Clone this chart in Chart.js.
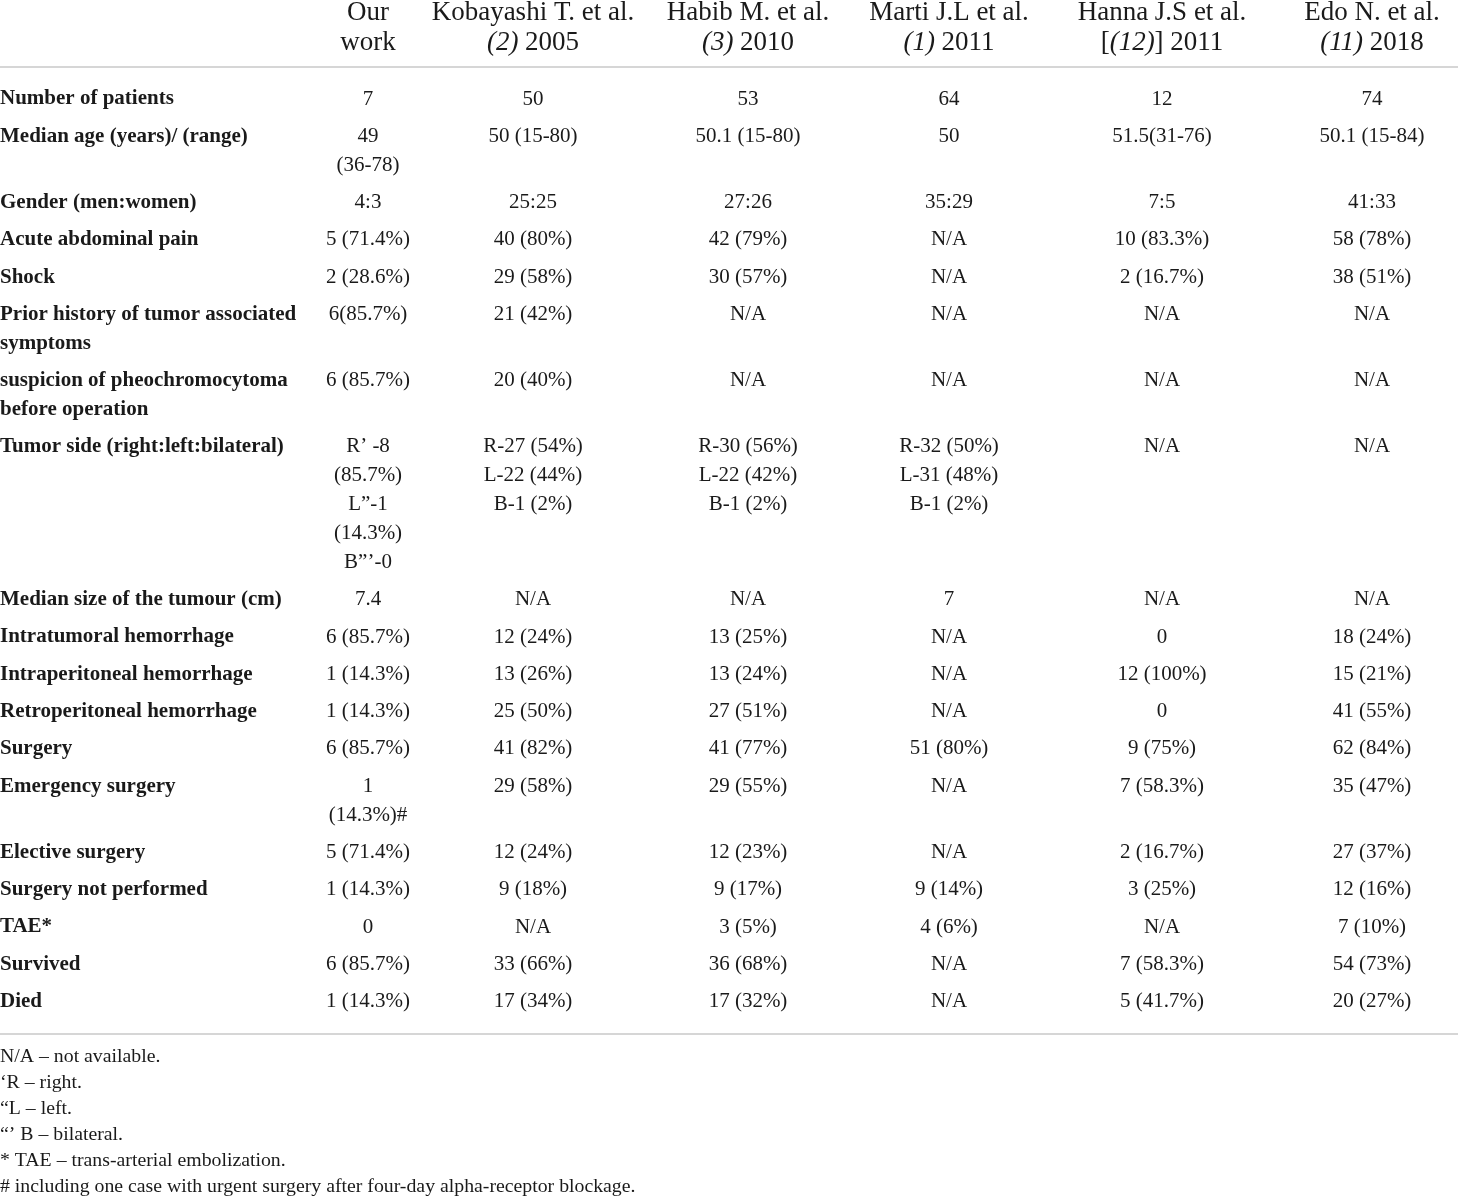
<!DOCTYPE html>
<html>
<head>
<meta charset="utf-8">
<script src="https://cdn.jsdelivr.net/npm/chart.js@4/dist/chart.umd.min.js"></script>
<style>
  html, body { margin: 0; padding: 0; background: #ffffff; }
  #wrap { width: 1460px; height: 1196px; position: relative; }
</style>
</head>
<body>
<div id="wrap"><canvas id="c" width="1460" height="1196"></canvas></div>
<script>
// ---------------- DATA ----------------
const headerLine1 = ["Our", "Kobayashi T. et al.", "Habib M. et al.", "Marti J.L et al.", "Hanna J.S et al.", "Edo N. et al."];
const headerLine2 = ["work", "_(2)_ 2005", "_(3)_ 2010", "_(1)_ 2011", "[_(12)_] 2011", "_(11)_ 2018"];

const rowLabels = [
  "Number of patients",
  "Median age (years)/ (range)",
  "Gender (men:women)",
  "Acute abdominal pain",
  "Shock",
  "Prior history of tumor associated\nsymptoms",
  "suspicion of pheochromocytoma\nbefore operation",
  "Tumor side (right:left:bilateral)",
  "Median size of the tumour (cm)",
  "Intratumoral hemorrhage",
  "Intraperitoneal hemorrhage",
  "Retroperitoneal hemorrhage",
  "Surgery",
  "Emergency surgery",
  "Elective surgery",
  "Surgery not performed",
  "TAE*",
  "Survived",
  "Died"
];

const ourWork = ["7", "49\n(36-78)", "4:3", "5 (71.4%)", "2 (28.6%)", "6(85.7%)", "6 (85.7%)",
  "R\u2019 -8\n(85.7%)\nL\u201D-1\n(14.3%)\nB\u201D\u2019-0", "7.4", "6 (85.7%)", "1 (14.3%)", "1 (14.3%)",
  "6 (85.7%)", "1\n(14.3%)#", "5 (71.4%)", "1 (14.3%)", "0", "6 (85.7%)", "1 (14.3%)"];
const kobayashi = ["50", "50 (15-80)", "25:25", "40 (80%)", "29 (58%)", "21 (42%)", "20 (40%)",
  "R-27 (54%)\nL-22 (44%)\nB-1 (2%)", "N/A", "12 (24%)", "13 (26%)", "25 (50%)",
  "41 (82%)", "29 (58%)", "12 (24%)", "9 (18%)", "N/A", "33 (66%)", "17 (34%)"];
const habib = ["53", "50.1 (15-80)", "27:26", "42 (79%)", "30 (57%)", "N/A", "N/A",
  "R-30 (56%)\nL-22 (42%)\nB-1 (2%)", "N/A", "13 (25%)", "13 (24%)", "27 (51%)",
  "41 (77%)", "29 (55%)", "12 (23%)", "9 (17%)", "3 (5%)", "36 (68%)", "17 (32%)"];
const marti = ["64", "50", "35:29", "N/A", "N/A", "N/A", "N/A",
  "R-32 (50%)\nL-31 (48%)\nB-1 (2%)", "7", "N/A", "N/A", "N/A",
  "51 (80%)", "N/A", "N/A", "9 (14%)", "4 (6%)", "N/A", "N/A"];
const hanna = ["12", "51.5(31-76)", "7:5", "10 (83.3%)", "2 (16.7%)", "N/A", "N/A",
  "N/A", "N/A", "0", "12 (100%)", "0",
  "9 (75%)", "7 (58.3%)", "2 (16.7%)", "3 (25%)", "N/A", "7 (58.3%)", "5 (41.7%)"];
const edo = ["74", "50.1 (15-84)", "41:33", "58 (78%)", "38 (51%)", "N/A", "N/A",
  "N/A", "N/A", "18 (24%)", "15 (21%)", "41 (55%)",
  "62 (84%)", "35 (47%)", "27 (37%)", "12 (16%)", "7 (10%)", "54 (73%)", "20 (27%)"];

const footnotes = [
  "N/A \u2013 not available.",
  "\u2018R \u2013 right.",
  "\u201CL \u2013 left.",
  "\u201C\u2019 B \u2013 bilateral.",
  "* TAE \u2013 trans-arterial embolization.",
  "# including one case with urgent surgery after four-day alpha-receptor blockage."
];

// ---------------- LAYOUT / STYLE ----------------
const columns = [ourWork, kobayashi, habib, marti, hanna, edo];
const layout = {
  width: 1460, height: 1196,
  labelX: 0,
  colCenters: [368, 533, 748, 949, 1162, 1372],
  headerY: [12.5, 42.5],
  ruleTop: 67, ruleBottom: 1034,
  firstRowY: 99, lineH: 28.9, rowGap: 37.3,
  footY: 1057, footH: 26
};
const style = {
  color: "#1a1a1a",
  ruleColor: "#c8c8c8",
  headerFont: "27px 'Liberation Serif'",
  headerItalic: "italic 27px 'Liberation Serif'",
  bodyFont: "21px 'Liberation Serif'",
  labelFont: "bold 21px 'Liberation Serif'",
  footFont: "19.8px 'Liberation Serif'"
};

// row center positions (first line) derived from line counts
function nLines(s) { return s.split("\n").length; }
const rowY = [];
(function () {
  let y = layout.firstRowY;
  for (let r = 0; r < rowLabels.length; r++) {
    rowY.push(y);
    let n = nLines(rowLabels[r]);
    columns.forEach(col => { n = Math.max(n, nLines(col[r])); });
    y += (n - 1) * layout.lineH + layout.rowGap;
  }
})();

const datasets = [];
datasets.push({
  label: "labels", kind: "label",
  texts: rowLabels,
  data: rowLabels.map((_, r) => ({ x: layout.labelX, y: rowY[r] }))
});
columns.forEach((col, c) => {
  datasets.push({
    label: headerLine1[c], kind: "cell", col: c,
    texts: col,
    data: col.map((_, r) => ({ x: layout.colCenters[c], y: rowY[r] }))
  });
});
datasets.forEach(d => { d.pointRadius = 0; d.pointHoverRadius = 0; d.showLine = false; });

function drawRich(ctx, text, cx, cy) {
  // segments between underscores are italic
  const parts = text.split("_");
  const segs = parts.map((t, i) => ({ t, f: i % 2 ? style.headerItalic : style.headerFont }));
  let total = 0;
  segs.forEach(s => { ctx.font = s.f; s.w = ctx.measureText(s.t).width; total += s.w; });
  let x = cx - total / 2;
  ctx.textAlign = "left";
  segs.forEach(s => { ctx.font = s.f; ctx.fillText(s.t, x, cy); x += s.w; });
}

const tablePlugin = {
  id: "tablePlugin",
  afterDatasetsDraw(chart) {
    const ctx = chart.ctx;
    const xs = chart.scales.x, ys = chart.scales.y;
    ctx.save();
    ctx.fillStyle = style.color;
    ctx.textBaseline = "middle";

    // header
    const cellMetaStart = 1;
    headerLine1.forEach((h, c) => {
      const meta = chart.getDatasetMeta(cellMetaStart + c);
      const cx = meta.data[0].x;
      drawRich(ctx, h, cx, ys.getPixelForValue(layout.headerY[0]));
      drawRich(ctx, headerLine2[c], cx, ys.getPixelForValue(layout.headerY[1]));
    });

    // rules
    ctx.strokeStyle = style.ruleColor;
    ctx.lineWidth = 1.6;
    [layout.ruleTop, layout.ruleBottom].forEach(v => {
      const py = ys.getPixelForValue(v);
      ctx.beginPath();
      ctx.moveTo(xs.getPixelForValue(0), py);
      ctx.lineTo(xs.getPixelForValue(layout.width - 2), py);
      ctx.stroke();
    });

    // body cells
    chart.data.datasets.forEach((ds, di) => {
      const meta = chart.getDatasetMeta(di);
      meta.data.forEach((el, r) => {
        const lines = ds.texts[r].split("\n");
        if (ds.kind === "label") { ctx.font = style.labelFont; ctx.textAlign = "left"; }
        else { ctx.font = style.bodyFont; ctx.textAlign = "center"; }
        const dy = ys.getPixelForValue(layout.lineH) - ys.getPixelForValue(0);
        lines.forEach((ln, k) => ctx.fillText(ln, el.x, el.y + k * dy));
      });
    });

    // footnotes
    ctx.font = style.footFont;
    ctx.textAlign = "left";
    footnotes.forEach((f, i) => {
      ctx.fillText(f, xs.getPixelForValue(0), ys.getPixelForValue(layout.footY + i * layout.footH));
    });
    ctx.restore();
  }
};

new Chart(document.getElementById("c"), {
  type: "scatter",
  data: { datasets },
  options: {
    responsive: false,
    animation: false,
    devicePixelRatio: 1,
    layout: { padding: 0 },
    events: [],
    plugins: { legend: { display: false }, tooltip: { enabled: false } },
    scales: {
      x: { type: "linear", min: 0, max: layout.width, display: false },
      y: { type: "linear", min: 0, max: layout.height, reverse: true, display: false }
    }
  },
  plugins: [tablePlugin]
});
</script>
</body>
</html>
